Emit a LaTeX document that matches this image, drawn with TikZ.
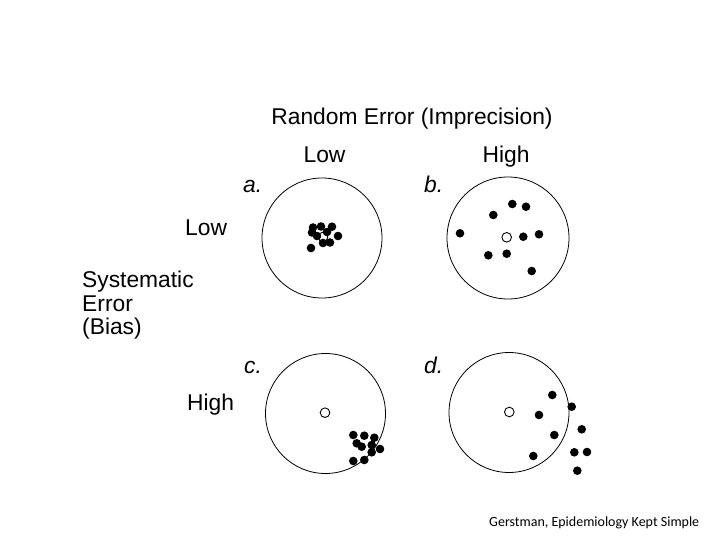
\documentclass[tikz,border=0pt]{standalone}
\usepackage{fontspec}
\setmainfont{Liberation Sans}
\newfontfamily\footfont{Carlito}
\begin{document}
\begin{tikzpicture}[x=1pt,y=-1pt,
  lbl/.style={inner sep=0pt, font=\fontsize{22.8}{24}\selectfont},
  tag/.style={inner sep=0pt, font=\fontsize{22.8}{24}\selectfont\itshape},
  target/.style={draw=black, line width=0.8pt},
  hole/.style={draw=black, line width=0.9pt, fill=white},
  shot/.style={fill=black}]
\useasboundingbox (0,0) rectangle (720,540);
% titles
\node[lbl, anchor=base] (title) at (412,125) {Random Error (Imprecision)};
\node[lbl, anchor=base] (lowtop) at (324.5,163) {Low};
\node[lbl, anchor=base] (hightop) at (506,163) {High};
\node[lbl, anchor=base west] (lowleft) at (185,236) {Low};
\node[lbl, anchor=base west] (highleft) at (187,410) {High};
\node[lbl, anchor=base west] (sys1) at (82,287) {Systematic};
\node[lbl, anchor=base west] (sys2) at (82,311) {Error};
\node[lbl, anchor=base west] (sys3) at (82,334) {(Bias)};
\node[tag, anchor=base west] (ta) at (243,193) {a.};
\node[tag, anchor=base west] (tb) at (424,193) {b.};
\node[tag, anchor=base west] (tc) at (244,373) {c.};
\node[tag, anchor=base west] (td) at (424,373) {d.};
% targets
\draw[target] (322,238) circle (60);
\draw[target] (508,238) circle (61);
\draw[target] (325.5,413.5) circle (60);
\draw[target] (509,412.5) circle (60);
% centres
\draw[hole] (323,237) circle (4.8);
\draw[hole] (506.7,237.3) circle (4.8);
\draw[hole] (325,412.7) circle (4.8);
\draw[hole] (509.3,412) circle (4.8);
% shots a
\foreach \p in {(313,227.5),(321,226.5),(332,226.7),(312,232.5),(317,236),(327,232),(338,236),(323,243),(330,242.5),(311,248)}
  \fill[shot] \p circle (4.3);
% shots b
\foreach \p in {(512.3,204),(526,206.7),(493.3,215),(460,233.3),(523.3,236.7),(539,234.3),(488.3,255.3),(506.7,253.7),(531.7,271)}
  \fill[shot] \p circle (4.3);
% shots c
\foreach \p in {(353.3,435),(364.3,435.7),(374.3,437.7),(356.7,443.3),(361.7,446.7),(371.7,445),(380,449),(371.7,452.3),(353.3,461),(364.3,460)}
  \fill[shot] \p circle (4.3);
% shots d
\foreach \p in {(552.3,395),(571.7,406.7),(539,415),(581.7,429.3),(554.3,435),(533.3,456),(574.3,452.3),(587,452),(577.3,470.7)}
  \fill[shot] \p circle (4.3);
% footer
\node[inner sep=0pt, anchor=base west, font=\footfont\fontsize{14}{16}\selectfont] (foot) at (489,526) {Gerstman, Epidemiology Kept Simple};
\end{tikzpicture}
\end{document}
